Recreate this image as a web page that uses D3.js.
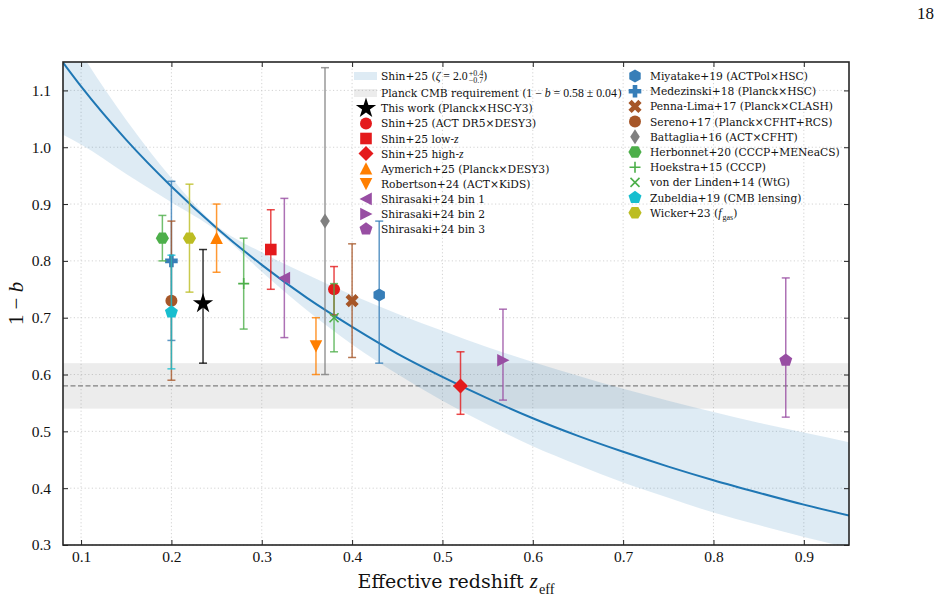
<!DOCTYPE html>
<html>
<head>
<meta charset="utf-8">
<script src="https://cdn.jsdelivr.net/npm/d3@7"></script>
<style>
  body { margin: 0; background: #fff; }
  text { font-family: "DejaVu Serif", serif; fill: #111; white-space: pre; }
</style>
</head>
<body>
<div id="chart"></div>
<script>
var studies = [
    "This work (Planck×HSC-Y3)",
    "Shin+25 (ACT DR5×DESY3)",
    "Shin+25 low-$z$",
    "Shin+25 high-$z$",
    "Aymerich+25 (Planck×DESY3)",
    "Robertson+24 (ACT×KiDS)",
    "Shirasaki+24 bin 1",
    "Shirasaki+24 bin 2",
    "Shirasaki+24 bin 3",
    "Miyatake+19 (ACTPol×HSC)",
    "Medezinski+18 (Planck×HSC)",
    "Penna-Lima+17 (Planck×CLASH)",
    "Sereno+17 (Planck×CFHT+RCS)",
    "Battaglia+16 (ACT×CFHT)",
    "Herbonnet+20 (CCCP+MENeaCS)",
    "Hoekstra+15 (CCCP)",
    "von der Linden+14 (WtG)",
    "Zubeldia+19 (CMB lensing)",
    "Wicker+23 ($f$_{gas})"
];
var zEff      = [0.235, 0.38, 0.31, 0.52, 0.25, 0.36, 0.325, 0.567, 0.88, 0.43, 0.20, 0.40, 0.20, 0.37, 0.19, 0.28, 0.38, 0.20, 0.22];
var oneMinusB = [0.725, 0.75, 0.82, 0.58, 0.84, 0.65, 0.77, 0.625, 0.625, 0.74, 0.80, 0.73, 0.73, 0.87, 0.84, 0.76, 0.70, 0.71, 0.84];
var upperEnd  = [0.82, 0.79, 0.89, 0.64, 0.90, 0.70, 0.91, 0.715, 0.77, 0.87, 0.94, 0.83, 0.87, 1.14, 0.88, 0.84, 0.76, 0.81, 0.935];
var lowerEnd  = [0.62, 0.705, 0.75, 0.53, 0.78, 0.60, 0.665, 0.555, 0.525, 0.62, 0.66, 0.63, 0.59, 0.60, 0.80, 0.68, 0.64, 0.61, 0.745];

// Shin+25 power-law model curve and its band
var modelZ    = [0.08, 0.10, 0.15, 0.20, 0.25, 0.30, 0.35, 0.40, 0.45, 0.50, 0.55, 0.60, 0.65, 0.70, 0.75, 0.80, 0.85, 0.90, 0.95];
var modelMid  = [1.149, 1.107, 1.013, 0.931, 0.858, 0.793, 0.735, 0.684, 0.637, 0.596, 0.558, 0.523, 0.492, 0.464, 0.438, 0.414, 0.392, 0.371, 0.352];
var modelLow  = [1.022, 1.005, 0.953, 0.903, 0.853, 0.781, 0.713, 0.653, 0.601, 0.554, 0.512, 0.474, 0.441, 0.410, 0.383, 0.357, 0.335, 0.314, 0.295];
var modelHigh = [1.218, 1.166, 1.048, 0.946, 0.862, 0.815, 0.776, 0.740, 0.707, 0.677, 0.648, 0.622, 0.598, 0.575, 0.554, 0.534, 0.515, 0.498, 0.481];

// Planck CMB requirement
var planckValue = 0.58;
var planckErr = 0.04;

var xTicks = [0.1, 0.2, 0.3, 0.4, 0.5, 0.6, 0.7, 0.8, 0.9];
var yTicks = [0.3, 0.4, 0.5, 0.6, 0.7, 0.8, 0.9, 1.0, 1.1];

// styles per study
var shapes = ["*", "o", "s", "D", "^", "v", "<", ">", "p", "h", "P", "X", "o", "d", "H", "+", "x", "p", "H"];
var colors = ["#000000", "#e41a1c", "#e41a1c", "#e41a1c", "#ff7f00", "#ff7f00", "#984ea3", "#984ea3", "#984ea3",
              "#377eb8", "#377eb8", "#a65628", "#a65628", "#808080", "#4daf4a", "#4daf4a", "#4daf4a", "#17becf", "#bcbd22"];

var width = 941, height = 598;
var x = d3.scaleLinear().domain([0.08, 0.95]).range([63, 849]);
var y = d3.scaleLinear().domain([0.3, 1.15]).range([545, 62]);

var svg = d3.select("#chart").append("svg")
    .attr("width", width)
    .attr("height", height);

svg.append("defs").append("clipPath").attr("id", "plotclip")
    .append("rect")
    .attr("x", x.range()[0]).attr("y", y.range()[1])
    .attr("width", x.range()[1] - x.range()[0])
    .attr("height", y.range()[0] - y.range()[1]);

// page number
svg.append("text")
    .attr("x", 934).attr("y", 19)
    .attr("text-anchor", "end")
    .style("font-family", "Liberation Serif")
    .style("font-size", "17px")
    .text("18");

// grid
var grid = svg.append("g").attr("class", "grid");
grid.selectAll("line.gx").data(xTicks).enter().append("line")
    .attr("x1", function(d) { return x(d); }).attr("x2", function(d) { return x(d); })
    .attr("y1", y.range()[0]).attr("y2", y.range()[1]);
grid.selectAll("line.gy").data(yTicks).enter().append("line")
    .attr("x1", x.range()[0]).attr("x2", x.range()[1])
    .attr("y1", function(d) { return y(d); }).attr("y2", function(d) { return y(d); });
grid.selectAll("line")
    .attr("stroke", "#c8c8c8")
    .attr("stroke-width", 0.8)
    .attr("stroke-dasharray", "1.2,2.4");

var plot = svg.append("g").attr("clip-path", "url(#plotclip)");

// Planck band + dashed line
plot.append("rect")
    .attr("x", x.range()[0])
    .attr("width", x.range()[1] - x.range()[0])
    .attr("y", y(planckValue + planckErr))
    .attr("height", y(planckValue - planckErr) - y(planckValue + planckErr))
    .attr("fill", "#808080").attr("fill-opacity", 0.15);
plot.append("line")
    .attr("x1", x.range()[0]).attr("x2", x.range()[1])
    .attr("y1", y(planckValue)).attr("y2", y(planckValue))
    .attr("stroke", "#808080").attr("stroke-width", 1.2)
    .attr("stroke-dasharray", "5,2.5");

// model band and curve
var modelPts = modelZ.map(function(z, i) { return {z: z, mid: modelMid[i], lo: modelLow[i], hi: modelHigh[i]}; });
plot.append("path")
    .datum(modelPts)
    .attr("fill", "#1f77b4").attr("fill-opacity", 0.15)
    .attr("d", d3.area()
        .x(function(d) { return x(d.z); })
        .y0(function(d) { return y(d.lo); })
        .y1(function(d) { return y(d.hi); })
        .curve(d3.curveMonotoneX));
plot.append("path")
    .datum(modelPts)
    .attr("fill", "none").attr("stroke", "#1f77b4").attr("stroke-width", 2)
    .attr("d", d3.line()
        .x(function(d) { return x(d.z); })
        .y(function(d) { return y(d.mid); })
        .curve(d3.curveMonotoneX));

// marker shapes
function poly(pts) { return "M" + pts.map(function(p) { return p[0].toFixed(2) + "," + p[1].toFixed(2); }).join("L") + "Z"; }
function ngon(n, r, rot) {
    var pts = [];
    for (var i = 0; i < n; i++) {
        var a = rot + i * 2 * Math.PI / n;
        pts.push([r * Math.sin(a), -r * Math.cos(a)]);
    }
    return poly(pts);
}
function markerPath(s) {
    switch (s) {
        case "*": return d3.symbol(d3.symbolStar, 128)();
        case "o": return d3.symbol(d3.symbolCircle, Math.PI * 36)();
        case "s": return poly([[-5.8, -5.8], [5.8, -5.8], [5.8, 5.8], [-5.8, 5.8]]);
        case "D": return poly([[0, -7.5], [7.5, 0], [0, 7.5], [-7.5, 0]]);
        case "d": return poly([[0, -7.5], [4.8, 0], [0, 7.5], [-4.8, 0]]);
        case "^": return poly([[0, -6.5], [6.3, 5.8], [-6.3, 5.8]]);
        case "v": return poly([[0, 6.5], [6.3, -5.8], [-6.3, -5.8]]);
        case "<": return poly([[-6.5, 0], [5.8, -6.3], [5.8, 6.3]]);
        case ">": return poly([[6.5, 0], [-5.8, -6.3], [-5.8, 6.3]]);
        case "p": return ngon(5, 6.8, 0);
        case "h": return ngon(6, 6.6, 0);
        case "H": return ngon(6, 6.6, Math.PI / 6);
        case "P": return poly([[-2.3, -6.3], [2.3, -6.3], [2.3, -2.3], [6.3, -2.3], [6.3, 2.3], [2.3, 2.3],
                               [2.3, 6.3], [-2.3, 6.3], [-2.3, 2.3], [-6.3, 2.3], [-6.3, -2.3], [-2.3, -2.3]]);
        case "X":
            var c = Math.SQRT1_2, arm = [[-2.3, -7], [2.3, -7], [2.3, -2.3], [7, -2.3], [7, 2.3], [2.3, 2.3],
                                         [2.3, 7], [-2.3, 7], [-2.3, 2.3], [-7, 2.3], [-7, -2.3], [-2.3, -2.3]];
            return poly(arm.map(function(p) { return [c * (p[0] - p[1]), c * (p[0] + p[1])]; }));
        case "+": return "M-5.5,0H5.5M0,-5.5V5.5";
        case "x": return "M-4.5,-4.5L4.5,4.5M-4.5,4.5L4.5,-4.5";
    }
}
function drawMarker(sel, s, col) {
    var thin = (s === "+" || s === "x");
    sel.append("path")
        .attr("d", markerPath(s))
        .attr("fill", thin ? "none" : col)
        .attr("stroke", thin ? col : "none")
        .attr("stroke-width", thin ? 1.6 : 0);
}

// error bars + markers
var pts = svg.append("g");
studies.forEach(function(name, i) {
    var g = pts.append("g");
    var cx = x(zEff[i]);
    g.append("line")
        .attr("x1", cx).attr("x2", cx)
        .attr("y1", y(upperEnd[i])).attr("y2", y(lowerEnd[i]));
    [upperEnd[i], lowerEnd[i]].forEach(function(v) {
        g.append("line")
            .attr("x1", cx - 4).attr("x2", cx + 4)
            .attr("y1", y(v)).attr("y2", y(v));
    });
    g.selectAll("line")
        .attr("stroke", colors[i]).attr("stroke-opacity", 0.8).attr("stroke-width", 1.5);
    var m = g.append("g").attr("transform", "translate(" + cx + "," + y(oneMinusB[i]) + ")");
    drawMarker(m, shapes[i], colors[i]);
});

// frame and ticks
var axes = svg.append("g");
axes.append("g").attr("transform", "translate(0,545)")
    .call(d3.axisBottom(x).tickValues(xTicks).tickSizeInner(-5).tickSizeOuter(0).tickPadding(6).tickFormat(d3.format(".1f")));
axes.append("g").attr("transform", "translate(0,62)")
    .call(d3.axisTop(x).tickValues(xTicks).tickSizeInner(-5).tickSizeOuter(0).tickFormat(""));
axes.append("g").attr("transform", "translate(63,0)")
    .call(d3.axisLeft(y).tickValues(yTicks).tickSizeInner(-5).tickSizeOuter(0).tickPadding(12).tickFormat(d3.format(".1f")));
axes.append("g").attr("transform", "translate(849,0)")
    .call(d3.axisRight(y).tickValues(yTicks).tickSizeInner(-5).tickSizeOuter(0).tickFormat(""));
axes.selectAll(".domain").remove();
axes.selectAll(".tick line").attr("stroke", "#222").attr("stroke-width", 1);
axes.selectAll(".tick text")
    .style("font-family", "Liberation Serif")
    .style("font-size", "15.5px")
    .attr("fill", "#111");
svg.append("rect")
    .attr("x", 63).attr("y", 62).attr("width", 786).attr("height", 483)
    .attr("fill", "none").attr("stroke", "#262626").attr("stroke-width", 1.6);

// text with $math$, _{sub} and ^{sup}
function rich(g, x0, y0, str, size) {
    var re = /\$([^$]+)\$|_\{([^}]*)\}|\^\{([^}]*)\}|([^$_^]+)/g;
    var cx = x0, m, sup = null;
    while ((m = re.exec(str))) {
        var t;
        if (m[4] != null) {
            t = g.append("text").attr("x", cx).attr("y", y0).style("font-size", size + "px").text(m[4]);
            cx += t.node().getComputedTextLength();
            sup = null;
        } else if (m[1] != null) {
            t = g.append("text").attr("x", cx).attr("y", y0)
                .style("font-family", "Liberation Serif").style("font-size", (size * 1.1) + "px");
            m[1].split("").forEach(function(ch) {
                t.append("tspan").style("font-style", /[A-Za-zζ]/.test(ch) ? "italic" : "normal").text(ch);
            });
            cx += t.node().getComputedTextLength() + 1;
            sup = null;
        } else if (m[3] != null) {
            t = g.append("text").attr("x", cx).attr("y", y0 - size * 0.4)
                .style("font-family", "Liberation Serif").style("font-size", (size * 0.75) + "px").text(m[3]);
            var w = t.node().getComputedTextLength();
            sup = {x: cx, w: w};
            cx += w;
        } else {
            var sx = sup ? sup.x : cx;
            t = g.append("text").attr("x", sx).attr("y", y0 + size * 0.32)
                .style("font-family", "Liberation Serif").style("font-size", (size * 0.75) + "px").text(m[2]);
            var w2 = t.node().getComputedTextLength();
            cx = sup ? sup.x + Math.max(sup.w, w2) : cx + w2;
            sup = null;
        }
    }
    return cx - x0;
}

// axis labels
var xl = svg.append("g");
var xlw = rich(xl, 0, 588, "Effective redshift $z$_{eff}", 19);
xl.attr("transform", "translate(" + (456 - xlw / 2) + ",0)");
var ylg = svg.append("g").attr("transform", "translate(23,303) rotate(-90)");
var ylab = ylg.append("g");
var ylw = rich(ylab, 0, 0, "$1 − b$", 19);
ylab.attr("transform", "translate(" + (-ylw / 2) + ",0)");

// legend
var leg = svg.append("g");
var fs = 10.7;
leg.append("rect").attr("x", 354).attr("y", 72).attr("width", 23).attr("height", 8)
    .attr("fill", "#1f77b4").attr("fill-opacity", 0.15);
rich(leg, 381, 80, "Shin+25 ($ζ = 2.0$^{+0.4}_{−0.7})", fs);
leg.append("rect").attr("x", 354).attr("y", 89).attr("width", 23).attr("height", 8)
    .attr("fill", "#808080").attr("fill-opacity", 0.15);
rich(leg, 381, 97, "Planck CMB requirement ($1 − b = 0.58 ± 0.04$)", fs);

studies.forEach(function(name, i) {
    var col2 = i >= 9;
    var k = col2 ? i - 9 : i;
    var mx = col2 ? 635 : 366;
    var my = col2 ? 76 + 15.2 * k : 108.3 + 15.1 * k;
    var m = leg.append("g").attr("transform", "translate(" + mx + "," + my + ")");
    drawMarker(m, shapes[i], colors[i]);
    rich(leg, col2 ? 650 : 381, my + 4, name, fs);
});
</script>
</body>
</html>
